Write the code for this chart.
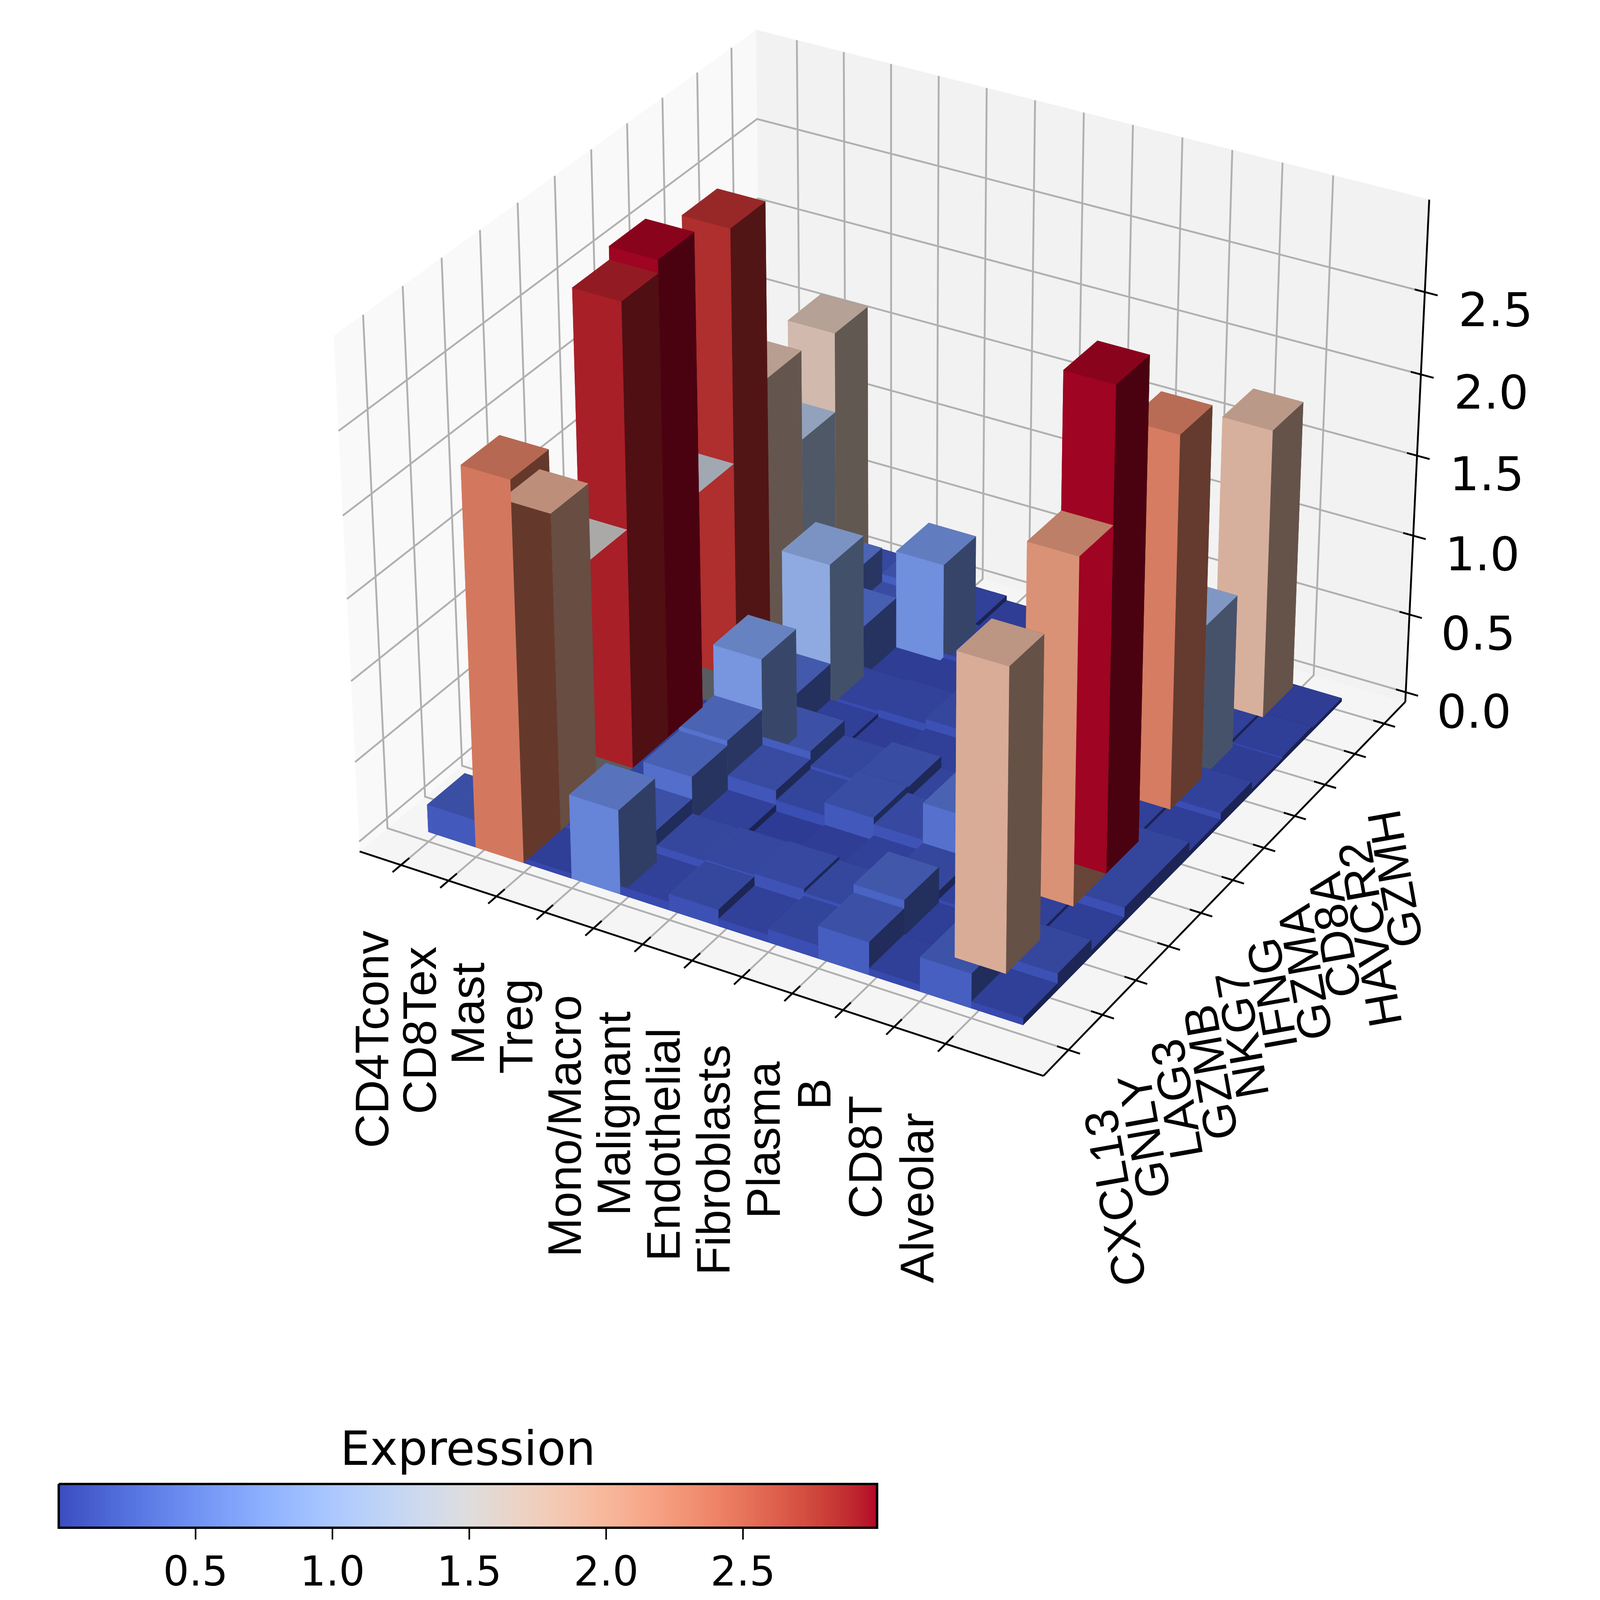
import numpy as np, pandas as pd, altair as alt
cell_types = ["CD4Tconv","CD8Tex","Mast","Treg","Mono/Macro","Malignant","Endothelial","Fibroblasts","Plasma","B","CD8T","Alveolar"]
genes = ["CXCL13","GNLY","LAG3","GZMB","NKG7","IFNG","GZMA","CD8A","HAVCR2","GZMH"]
v_r0 = [.17,.06,.05,.05,.05,.05,.05,.05,.05,.05]
v_r1 = [2.33,1.95,1.49,2.86,2.94,1.36,2.8,1.72,1.16,1.66]
v_r2 = [.03,.05,.08,.08,.05,.05,.05,.1,.37,.12]
v_r3 = [.52,.19,.33,.36,.68,.27,.9,.32,.15,.2]
v_r4 = [.05,.1,.05,.14,.19,.04,.06,.02,.62,.05]
v_r5 = [.1,.11,.01,.08,.1,.02,.07,.02,.05,.02]
v_r6 = [.045,.12,.02,.16,.15,.04,.1,.05,.05,.05]
v_r7 = [.08,.1,.05,.12,.08,.05,.05,.05,.05,.05]
v_r8 = [.2,.25,.1,.35,.05,.05,.05,.05,.05,.05]
v_r9 = [.04,.03,.05,.05,.05,.05,.05,.05,.05,.05]
v_r10 = [.21,1.85,.05,2.12,2.94,.05,2.3,.96,.05,1.8]
v_r11 = [.04,.1,.03,.09,.09,.03,.07,.02,.03,.02]
values = np.array([v_r0,v_r1,v_r2,v_r3,v_r4,v_r5,v_r6,v_r7,v_r8,v_r9,v_r10,v_r11])
coolwarm = ["#3b4cc0","#445acc","#4d68d7","#5775e1","#6282ea","#6c8ef1","#779af7","#82a5fb","#8db0fe","#98b9ff","#a3c2ff","#aec9fd","#b8d0f9","#c2d5f4","#ccd9ee","#d5dbe6","#dddddd","#e5d8d1","#ecd3c5","#f1ccb9","#f5c4ad","#f7bba0","#f7b194","#f7a687","#f49a7b","#f18d6f","#ec7f63","#e57058","#de604d","#d55042","#cb3e38","#c0282f","#b40426"]
vmin, vmax = 0.0, 2.99
PW, PH = 6063, 6125
S = 1475
def rgb(h): return np.array([int(h[k:k+2],16) for k in (1,3,5)],float)
stops = np.array([rgb(c) for c in coolwarm])
def cmap(v):
    t = np.clip((v-vmin)/(values.max()-vmin),0,1)*(len(stops)-1)
    k = min(int(t),len(stops)-2)
    return stops[k]*(1-(t-k))+stops[k+1]*(t-k)
def hexc(c): return "#%02x%02x%02x"%tuple(int(round(x)) for x in np.clip(c,0,255))
xl=(-.6,12.6); yl=(-.5,10.5); zl=(0,vmax)
box=np.array([4,4,3.])*1.8294640721620434*25/24/np.linalg.norm([4,4,3])
el,az=np.radians(30),np.radians(-60); dist=10
R=.5*box; eye=R+dist*np.array([np.cos(el)*np.cos(az),np.cos(el)*np.sin(az),np.sin(el)])
w=(eye-R)/np.linalg.norm(eye-R); u=np.cross([0,0,1],w); u/=np.linalg.norm(u); v_=np.cross(w,u)
def view(p):
    p=np.asarray(p,float)
    W=np.array([(p[0]-xl[0])/(xl[1]-xl[0])*box[0],(p[1]-yl[0])/(yl[1]-yl[0])*box[1],(p[2]-zl[0])/(zl[1]-zl[0])*box[2]])-eye
    a,b,c=u@W,v_@W,w@W
    return a/-c,b/-c,10/c
dx=(xl[1]-xl[0])/12/4; dy=(yl[1]-yl[0])/12/4; dz=(zl[1]-zl[0])/12/4
X0,X1,Y0,Y1,Z0,Z1=xl[0]-dx,xl[1]+dx,yl[0]-dy,yl[1]+dy,zl[0]-dz,zl[1]+dz
D=3.906
cal=[((X1,Y0,Z0),(1013,1049)),((X0,Y0,Z0),(348,823)),((X1,Y1,Z0),(1365,678)),((X0,Y0,Z1),(323,325)),((X0,Y1,Z1),(733,30)),((X1,Y1,Z1),(1387,196))]
A=[];B=[]
for p,q in cal:
    s=view(p)
    A.append([s[0],1,0]);B.append(q[0]*D)
    A.append([-s[1],0,1]);B.append(q[1]*D)
sol=np.linalg.lstsq(np.array(A),np.array(B),rcond=None)[0]
def P(x,y,z):
    s=view((x,y,z)); return sol[0]*s[0]+sol[1], -(-sol[0]*s[1]+sol[2]), s[2]
pid=0
def add(rows,pts,fill):
    global pid
    for n,p in enumerate(pts):
        q=P(*p); rows.append(dict(pid=f"p{pid:05d}",n=n,x=q[0],y=q[1],fill=fill))
    pid+=1
rows=[]
add(rows,[(X0,Y0,Z0),(X1,Y0,Z0),(X1,Y1,Z0),(X0,Y1,Z0)],"#f5f5f5")
add(rows,[(X0,Y0,Z0),(X0,Y1,Z0),(X0,Y1,Z1),(X0,Y0,Z1)],"#f9f9f9")
add(rows,[(X0,Y1,Z0),(X1,Y1,Z0),(X1,Y1,Z1),(X0,Y1,Z1)],"#f2f2f2")
light=np.array([-2/3,-2/3,1/3]); 
def shade(n): return .3+.7*((np.dot(n,light)+1)/2)
faces=[]
for i in range(values.shape[0]):
    for j in range(values.shape[1]):
        h=values[i,j]; a,b=i,i+1; c,d=j,j+1
        base=cmap(h)
        quads=[([(a,c,0),(b,c,0),(b,d,0),(a,d,0)],(0,0,-1)),([(a,c,h),(b,c,h),(b,d,h),(a,d,h)],(0,0,1)),
               ([(a,c,0),(b,c,0),(b,c,h),(a,c,h)],(0,-1,0)),([(a,d,0),(b,d,0),(b,d,h),(a,d,h)],(0,1,0)),
               ([(a,c,0),(a,d,0),(a,d,h),(a,c,h)],(-1,0,0)),([(b,c,0),(b,d,0),(b,d,h),(b,c,h)],(1,0,0))]
        for pts,n in quads:
            faces.append((np.mean([P(*p)[2] for p in pts]),pts,hexc(base*shade(n))))
bar_rows=[]
for f in sorted(faces,key=lambda r:r[0],reverse=True):
    add(bar_rows,f[1],f[2])
lines=[]; lid=0
def seg(pts,col,wd):
    global lid
    for n,p in enumerate(pts):
        q=P(*p); lines.append(dict(lid=f"l{lid:05d}",n=n,x=q[0],y=q[1],col=col,wd=wd))
    lid+=1
G="#b0b0b0"
for i in range(12): seg([(i,Y0,Z0),(i,Y1,Z0),(i,Y1,Z1)],G,7)
for j in range(11): seg([(X1,j,Z0),(X0,j,Z0),(X0,j,Z1)],G,7)
zticks=[0,.5,1,1.5,2,2.5]
for z in zticks: seg([(X0,Y0,z),(X0,Y1,z),(X1,Y1,z)],G,7)
K="#000000"
seg([(X0,Y0,Z0),(X1,Y0,Z0)],K,7); seg([(X1,Y0,Z0),(X1,Y1,Z0)],K,7); seg([(X1,Y1,Z0),(X1,Y1,Z1)],K,7)
for i in range(12): seg([(i,Y0-.22,Z0),(i,Y0+.22,Z0)],K,7)
for j in range(11): seg([(X1-.22,j,Z0),(X1+.22,j,Z0)],K,7)
for z in zticks: seg([(X1-.2,Y1,z),(X1+.25,Y1,z)],K,7)
texts=[]
for i,t in enumerate(cell_types):
    q=P(i,Y0-.75,Z0-.26); texts.append(dict(x=q[0],y=q[1],t=t,a=270,al="right",f="Liberation Sans",s=179))
for j,t in enumerate(genes):
    q=P(X1+.65,j,Z0-.3); texts.append(dict(x=q[0],y=q[1],t=t,a=260,al="right",f="Liberation Sans",s=179))
for z in zticks:
    q=P(X1+1.38,Y1,z-.01); texts.append(dict(x=q[0],y=q[1],t=f"{z:.1f}",a=0,al="center",f="DejaVu Sans",s=178))
BX0,BX1,BY0,BY1=219,3324,5629,5795
cb_ticks=[.5,1,1.5,2,2.5]
bx=lambda v:BX0+(v-vmin)/(vmax-vmin)*(BX1-BX0)
for v in cb_ticks:
    texts.append(dict(x=bx(v),y=-(BY1+172),t=f"{v:.1f}",a=0,al="center",f="DejaVu Sans",s=155))
texts.append(dict(x=(BX0+BX1)/2,y=-5502,t="Expression",a=0,al="center",f="DejaVu Sans",s=178.5))
XS=alt.Scale(domain=[8,PW-8],nice=False,zero=False); YS=alt.Scale(domain=[-(PH-8+S),-(8+S)],nice=False,zero=False)
ex=alt.X("x:Q",scale=XS,axis=None); ey=alt.Y("y:Q",scale=YS,axis=None)
def polylayer(data):
    return alt.Chart(pd.DataFrame(data)).mark_line(strokeWidth=1.5,interpolate="linear").encode(ex,ey,detail="pid:N",order="n:Q",fill=alt.Fill("fill:N",scale=None),stroke=alt.Stroke("fill:N",scale=None))
panes=polylayer(rows); bars=polylayer(bar_rows)
grid=alt.Chart(pd.DataFrame(lines)).mark_line(strokeWidth=7).encode(ex,ey,detail="lid:N",order="n:Q",stroke=alt.Stroke("col:N",scale=None))
layers=[panes,grid,bars]
for (al,ang,sz),g in pd.DataFrame(texts).groupby(["al","a","s"]):
    layers.append(alt.Chart(g).mark_text(align=al,baseline="middle",angle=int(ang),font=g.f.iloc[0],fontSize=float(sz),color="black").encode(ex,ey,text="t:N"))
edges=np.linspace(vmin,vmax,257)
cells=pd.DataFrame({"v":(edges[:-1]+edges[1:])/2,"x":[bx(e) for e in edges[:-1]],"x2":[bx(e)+1 for e in edges[1:]],"y":-BY0,"y2":-BY1})
layers.append(alt.Chart(cells).mark_rect().encode(ex,x2="x2:Q",y=ey,y2="y2:Q",color=alt.Color("v:Q",scale=alt.Scale(domain=list(np.linspace(vmin,vmax,len(coolwarm))),range=coolwarm),legend=None)))
frame=pd.DataFrame({"x":[BX0,BX1,BX1,BX0,BX0],"y":[-BY0,-BY0,-BY1,-BY1,-BY0],"n":range(5)})
layers.append(alt.Chart(frame).mark_line(strokeWidth=9,color="black").encode(ex,ey,order="n:Q"))
cb=pd.DataFrame({"x":[bx(v) for v in cb_ticks],"y":-BY1,"y2":-(BY1+45)})
layers.append(alt.Chart(cb).mark_rule(strokeWidth=6,color="black").encode(ex,ey,y2="y2:Q"))
chart=alt.layer(*layers).properties(width=PW-16,height=PH-16,padding=0,autosize=alt.AutoSizeParams(type="none")).configure_view(stroke=None)
chart.save("out.html",embed_options={"renderer":"svg","actions":False})
